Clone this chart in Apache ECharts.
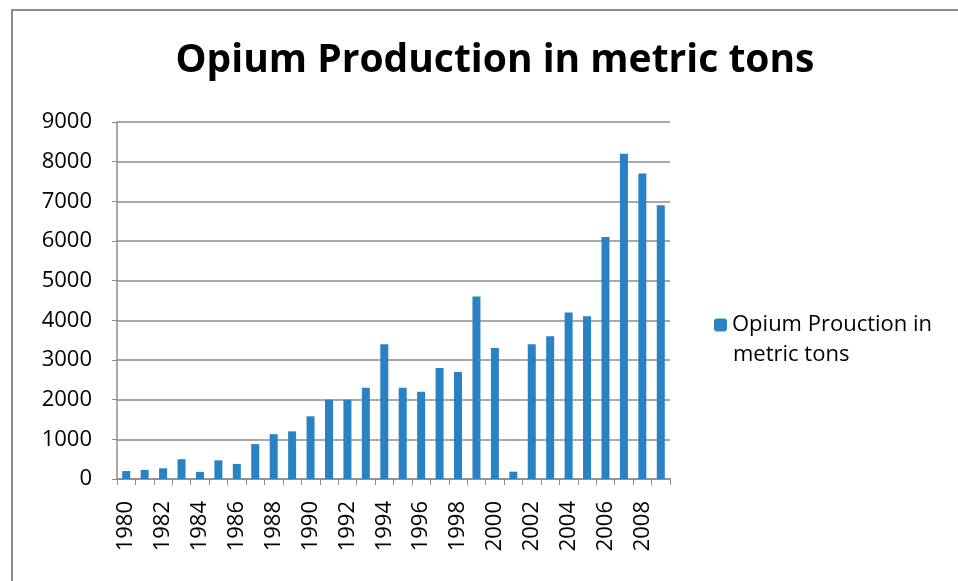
<!doctype html>
<html>
<head>
<meta charset="utf-8"/>
<title>opium production</title>
<script src="https://cdn.jsdelivr.net/npm/echarts@6/dist/echarts.min.js"></script>
<style>
* { margin: 0; padding: 0; }
body { background: #ffffff; }
#frame {
    position: absolute;
    left: 11px; top: 9px;
    width: 960px; height: 590px;
    border: 2px solid #8c8c8c;
}
#main { width: 958px; height: 581px; position: absolute; left: 0; top: 0; }
</style>
</head>
<body>
<div id="frame"></div>
<div id="main"></div>
<script type="text/javascript">
var years = ['1980','1981','1982','1983','1984','1985','1986','1987','1988','1989',
             '1990','1991','1992','1993','1994','1995','1996','1997','1998','1999',
             '2000','2001','2002','2003','2004','2005','2006','2007','2008','2009'];
var production = [200, 230, 270, 500, 180, 470, 380, 880, 1130, 1200,
                  1580, 2000, 2000, 2300, 3400, 2300, 2200, 2800, 2700, 4600,
                  3300, 185, 3400, 3600, 4200, 4100, 6100, 8200, 7700, 6900];
var seriesName = 'Opium Prouction in metric tons';
var titleText = 'Opium Production in metric tons';

var FONT = "'Open Sans', sans-serif";

var myChart = echarts.init(document.getElementById('main'));
var option = {
    animation: false,
    title: {
        text: titleText,
        left: 490, top: 36, textAlign: 'center',
        textStyle: { fontFamily: FONT, fontWeight: 'bold', fontSize: 39, color: '#000' }
    },
    legend: {
        data: [seriesName],
        left: 709, top: 309,
        itemWidth: 13, itemHeight: 13, itemGap: 6,
        // first line of the name sits next to the marker, the rest goes below
        formatter: function () { return 'Opium Prouction in'; },
        textStyle: { fontFamily: FONT, fontSize: 22, color: '#000' }
    },
    graphic: [{
        type: 'text',
        left: 733, top: 344,
        style: { text: 'metric tons', font: "22px 'Open Sans', sans-serif", fill: '#000' }
    }],
    grid: { left: 117, right: 288, top: 122, bottom: 102 },
    xAxis: {
        type: 'category',
        data: years,
        axisLine: { lineStyle: { color: '#8c8c8c', width: 1.5 } },
        axisTick: { show: true, interval: 0, length: 6, lineStyle: { color: '#8c8c8c' } },
        axisLabel: {
            interval: 1, rotate: 90, margin: 22,
            fontFamily: FONT, fontSize: 22, color: '#000'
        }
    },
    yAxis: {
        type: 'value',
        min: 0, max: 9000, interval: 1000,
        axisLine: { show: true, lineStyle: { color: '#8c8c8c', width: 1.5 } },
        axisTick: { show: true, length: 5, lineStyle: { color: '#8c8c8c' } },
        splitLine: { lineStyle: { color: '#8c8c8c', width: 1.5 } },
        axisLabel: {
            margin: 25, fontFamily: FONT, fontSize: 22, color: '#000',
            formatter: function (v) { return String(v); }
        }
    },
    series: [{
        name: seriesName,
        type: 'bar',
        data: production,
        barWidth: 8,
        itemStyle: { color: '#2A81C3' }
    }]
};
myChart.setOption(option);
</script>
</body>
</html>
